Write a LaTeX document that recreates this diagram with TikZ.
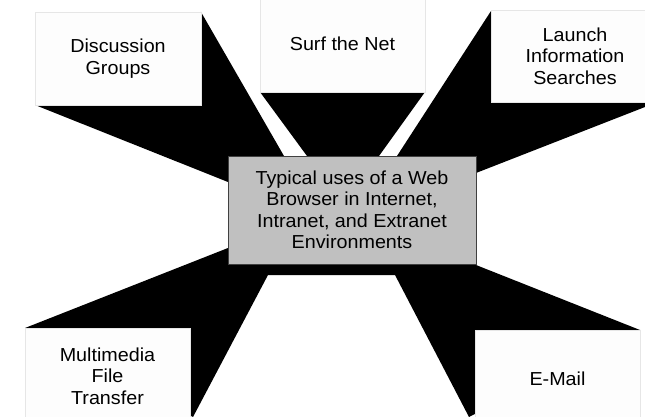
\documentclass[tikz,border=0pt]{standalone}
\usepackage{fontspec}
\setmainfont{Liberation Sans}[FakeStretch=1.05]
\definecolor{boxline}{HTML}{E6E6E6}
\definecolor{boxfill}{HTML}{FDFDFD}
\definecolor{centerfill}{HTML}{C0C0C0}
\definecolor{centerline}{HTML}{404040}
\begin{document}
\begin{tikzpicture}[x=1pt,y=-1pt,
  usebox/.style={draw=boxline,line width=0.8pt,fill=boxfill,align=center,
    inner sep=0pt,font=\fontsize{18.8}{21.5}\selectfont},
  hubbox/.style={draw=centerline,line width=1pt,fill=centerfill,align=center,
    inner sep=0pt,font=\fontsize{18.8}{21.5}\selectfont},
  spike/.style={fill=black}]
\useasboundingbox (0,0) rectangle (645,417);
% black star of spikes
\fill[spike] (201,12) -- (284,156) -- (307,156) -- (260,92) -- (425,92)
  -- (379,156) -- (397,156) -- (491,11) -- (645,11) -- (645,107)
  -- (476,173) -- (476,265) -- (640,330) -- (469,417) -- (395,275)
  -- (268,275) -- (193,417) -- (25,328) -- (228,248) -- (228,182)
  -- (35,105) -- cycle;
% boxes
\node[usebox,minimum width=166pt,minimum height=93pt] (dg) at (118,58.5) {Discussion\\Groups};
\node[usebox,minimum width=165pt,minimum height=96pt] (surf) at (342.5,44) {Surf the Net};
\node[usebox,minimum width=168pt,minimum height=92pt] (launch) at (575,56) {Launch\\Information\\Searches};
\node[usebox,minimum width=165pt,minimum height=96pt] (mm) at (107.5,376) {Multimedia\\File\\Transfer};
\node[usebox,minimum width=165pt,minimum height=98pt] (email) at (557.5,379) {E-Mail};
\node[hubbox,minimum width=248pt,minimum height=108pt] (hub) at (352,210)
  {Typical uses of a Web\\Browser in Internet,\\Intranet, and Extranet\\Environments};
\end{tikzpicture}
\end{document}
